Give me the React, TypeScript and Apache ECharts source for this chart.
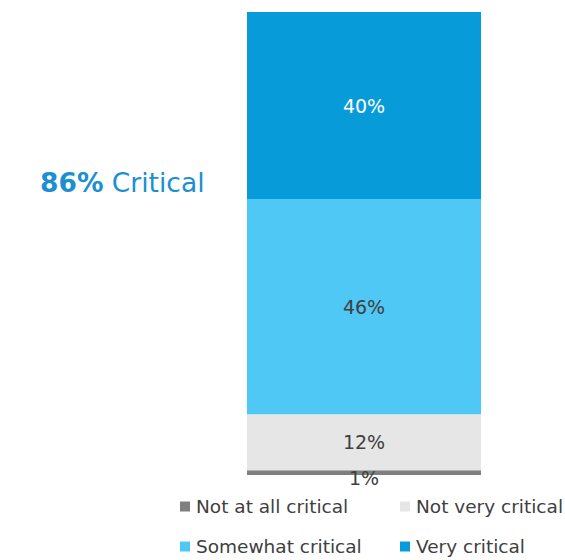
import React, { useEffect, useRef } from "react";
import * as echarts from "echarts";

const categories = ["Criticality"];
const seriesNames = ["Not at all critical", "Not very critical", "Somewhat critical", "Very critical"];
const seriesValues = [1, 12, 46, 40];
const seriesColors = ["#7f7f7f", "#e6e6e6", "#4fc8f5", "#079cd9"];
const labelColors = ["#404040", "#404040", "#404040", "#ffffff"];
const headline = { value: "86%", text: " Critical" };

export default function App() {
  const ref = useRef<HTMLDivElement>(null);
  useEffect(() => {
    if (!ref.current) return;
    const chart = echarts.init(ref.current, null, { renderer: "svg" });
    const font = "'DejaVu Sans', sans-serif";
    const legendPos = [
      { left: 180, top: 497 },
      { left: 400, top: 497 },
      { left: 180, top: 537 },
      { left: 400, top: 537 },
    ];
    chart.setOption({
      animation: false,
      grid: { left: 247, right: 84, top: 12, bottom: 85 },
      xAxis: {
        type: "category",
        data: categories,
        show: false,
      },
      yAxis: { type: "value", min: 0, max: 99, show: false },
      legend: seriesNames.map((n, i) => ({
        data: [n],
        left: legendPos[i].left,
        top: legendPos[i].top,
        itemWidth: 10,
        itemHeight: 10,
        itemGap: 0,
        icon: "rect",
        padding: 0,
        textStyle: { fontFamily: font, fontSize: 18.5, color: "#404040", padding: [0, 0, 0, 1] },
        selectedMode: false,
      })),
      graphic: [
        {
          type: "text",
          left: 40,
          top: 169,
          style: {
            rich: {
              a: { fontFamily: font, fontSize: 26.5, fontWeight: "bold", fill: "#1b8fd2" },
              b: { fontFamily: font, fontSize: 26.5, fill: "#1b8fd2" },
            },
            text: `{a|${headline.value}}{b|${headline.text}}`,
          },
        },
      ],
      series: seriesNames.map((n, i) => ({
        name: n,
        type: "bar",
        stack: "total",
        data: [seriesValues[i]],
        barWidth: "100%",
        itemStyle: { color: seriesColors[i] },
        label: {
          show: true,
          position: "inside",
          formatter: "{c}%",
          fontFamily: font,
          fontSize: 19,
          color: labelColors[i],
          offset: i === 0 ? [0, 5] : [0, 0],
        },
      })),
    });
    return () => chart.dispose();
  }, []);
  return <div ref={ref} style={{ width: 565, height: 560, position: "absolute", left: 0, top: 0 }} />;
}
